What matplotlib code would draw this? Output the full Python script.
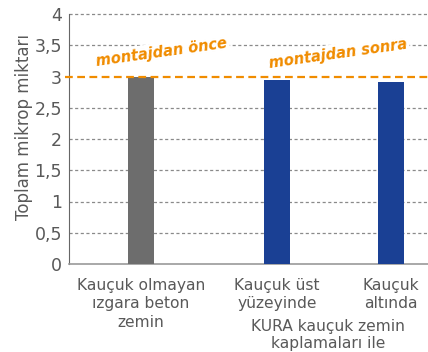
import matplotlib.pyplot as plt
import numpy as np

categories = ['Kauçuk olmayan\nızgara beton\nzemin', 'Kauçuk üst\nyüzeyinde', 'Kauçuk\naltında']
values = [3.0, 2.95, 2.91]
colors = ['#6d6d6d', '#1a4094', '#1a4094']
group_label = 'KURA kauçuk zemin\nkaplamaları ile'
before_label = 'montajdan önce'
after_label = 'montajdan sonra'
reference_level = 3.0
yticks = [0, 0.5, 1, 1.5, 2, 2.5, 3, 3.5, 4]
ytick_labels = ['0', '0,5', '1', '1,5', '2', '2,5', '3', '3,5', '4']

txt = '#595959'
orange = '#f08c00'

fig = plt.figure(figsize=(4.28, 3.52), dpi=100)
ax = fig.add_axes([69/428, 1 - 264/352, 1 - 69/428, 250/352])

xpos = np.array([0, 1, 1.84])
ax.bar(xpos, values, width=0.19, color=colors, zorder=3)

ax.set_xlim(-0.529, 2.11)
ax.set_ylim(0, 4)
ax.set_yticks(yticks)
ax.set_yticklabels(ytick_labels)
ax.set_xticks(xpos)
ax.set_xticklabels(categories)

# dashed grid, the 3-line is replaced by the orange reference line
for y in yticks[1:]:
    if y == reference_level:
        continue
    ax.axhline(y, color='#8a8a8a', lw=0.9, ls=(0, (2.5, 2)), zorder=1, clip_on=False)
ax.axhline(reference_level, color=orange, lw=1.6, ls=(0, (3.5, 2)), zorder=4,
           xmin=-0.01, clip_on=False)

ax.tick_params(axis='y', length=0, pad=5, labelsize=12.5, labelcolor=txt)
ax.tick_params(axis='x', length=0, pad=10, labelsize=11.2, labelcolor=txt)
for lbl in ax.get_xticklabels():
    lbl.set_linespacing(1.28)

for s in ['top', 'right']:
    ax.spines[s].set_visible(False)
ax.spines['left'].set_color('#666666')
ax.spines['bottom'].set_color('#999999')
ax.spines['bottom'].set_linewidth(1.2)

ax.set_ylabel('Toplam mikrop miktarı', fontsize=12, color=txt)
ax.yaxis.set_label_coords(-0.10, 0.55)

ax.text(0.154, 3.39, before_label, color=orange, fontsize=10.5, fontweight='bold',
        style='italic', rotation=8, ha='center', va='center', zorder=5,
        bbox=dict(facecolor='white', edgecolor='none', pad=1.5))
ax.text(1.449, 3.37, after_label, color=orange, fontsize=10.5, fontweight='bold',
        style='italic', rotation=8, ha='center', va='center', zorder=5,
        bbox=dict(facecolor='white', edgecolor='none', pad=1.5))

ax.text(1.375, -0.88, group_label, color=txt, fontsize=11.2, ha='center', va='top',
        linespacing=1.2)

fig.savefig('out.png', dpi=100)
